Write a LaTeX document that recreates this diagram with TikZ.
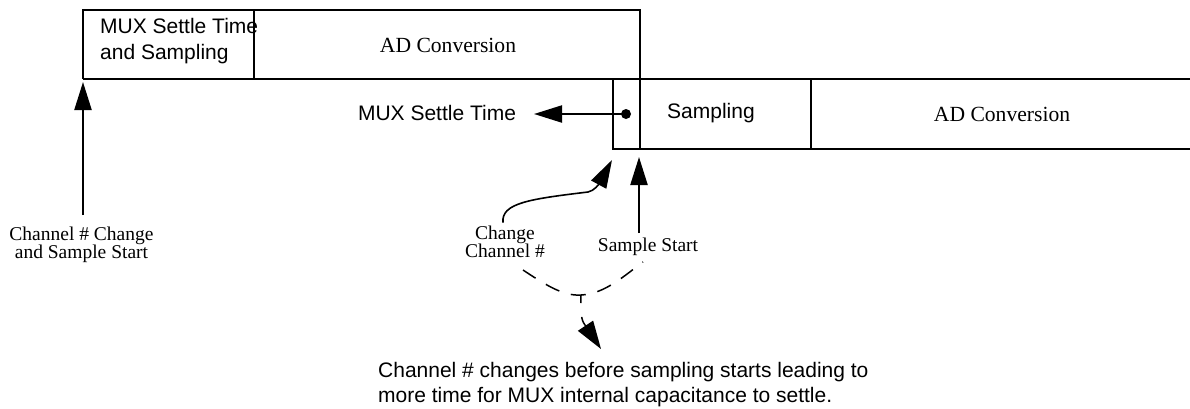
\documentclass[tikz,border=0pt]{standalone}
\usepackage{fontspec}
\setmainfont{Liberation Serif}
\newfontfamily\arialfont{Liberation Sans}
\usetikzlibrary{arrows.meta}
\begin{document}
\begin{tikzpicture}[x=1pt,y=-1pt,
  frame/.style={line width=2pt},
  arr/.style={line width=2.2pt,-{Triangle[length=28pt,width=17pt]}},
  sans/.style={font=\arialfont\fontsize{21}{26.5}\selectfont, inner sep=0pt},
  serifbig/.style={font=\fontsize{21.6}{26}\selectfont, inner sep=0pt},
  seriflab/.style={font=\fontsize{19.5}{17}\selectfont, align=center, inner sep=0pt},
  dsh/.style={line width=1.5pt, dash pattern=on 15pt off 12pt}
]
\useasboundingbox (0,0) rectangle (1190,408);
% frame coordinates
\coordinate (TL) at (83,10);
\coordinate (TR) at (640,10);
\coordinate (ML) at (83,79);
\coordinate (MR) at (1190,79);
\coordinate (D1a) at (254,10);
\coordinate (D1b) at (254,79);
\coordinate (LBa) at (613,79);
\coordinate (LBb) at (613,149);
\coordinate (LBr) at (1190,149);
\coordinate (SBb) at (640,149);
\coordinate (D2a) at (811,79);
\coordinate (D2b) at (811,149);
% frame
\draw[frame] (ML) -- (TL) -- (TR) -- (SBb);
\draw[frame] (ML) -- (MR);
\draw[frame] (LBa) -- (LBb) -- (LBr);
\draw[frame] (D1a) -- (D1b);
\draw[frame] (D2a) -- (D2b);
% texts in boxes
\node[sans, anchor=north west, align=left] (muxs) at (100,18) {MUX Settle Time\\and Sampling};
\node[serifbig, anchor=base] (adc1) at (448,52) {AD Conversion};
\node[sans, anchor=base] (mst) at (437,120.5) {MUX Settle Time};
\node[sans, anchor=base west] (samp) at (667,118.5) {Sampling};
\node[serifbig, anchor=base] (adc2) at (1002,121) {AD Conversion};
% left arrow
\coordinate (la0) at (83,215);
\coordinate (la1) at (83,82);
\draw[arr] (la0) -- (la1);
\node[seriflab, anchor=north] (cc) at (81.5,226.5) {Channel \# Change\\and Sample Start};
% dot arrow
\coordinate (dot) at (626,114);
\coordinate (dtip) at (534,114);
\fill (dot) circle (5);
\draw[arr] (dot) -- (dtip);
% sample start arrow
\coordinate (ss0) at (639,233);
\coordinate (ss1) at (639,157);
\draw[arr] (ss0) -- (ss1);
\node[seriflab, anchor=base] (sst) at (648,251) {Sample Start};
% change channel curve
\node[seriflab, anchor=north] (chc) at (505,225.5) {Change\\Channel \#};
\coordinate (ch1) at (612,160);
\draw[line width=1.6pt,-{Triangle[length=28pt,width=17pt]}] (chc.north) ++(-2,-3) .. controls (501,203) and (530,199) .. (588,192) .. controls (594,191) and (599,184) .. (ch1);
% dashed bracket
\coordinate (b0) at (523,270);
\coordinate (bm) at (581,295);
\coordinate (b1) at (643,262);
\coordinate (btip) at (601,349);
\draw[dsh] (b0) .. controls (550,288) and (565,296) .. (bm) .. controls (605,294) and (625,275) .. (b1);
\draw[line width=1.5pt, dash pattern=on 8pt off 14pt on 60pt, -{Triangle[length=28pt,width=18pt]}] (bm) .. controls (580,320) and (583,322) .. (btip);
\node[sans, anchor=north west, align=left, font=\arialfont\fontsize{21}{25}\selectfont] (note) at (378,362) {Channel \# changes before sampling starts leading to\\more time for MUX internal capacitance to settle.};
\end{tikzpicture}
\end{document}
